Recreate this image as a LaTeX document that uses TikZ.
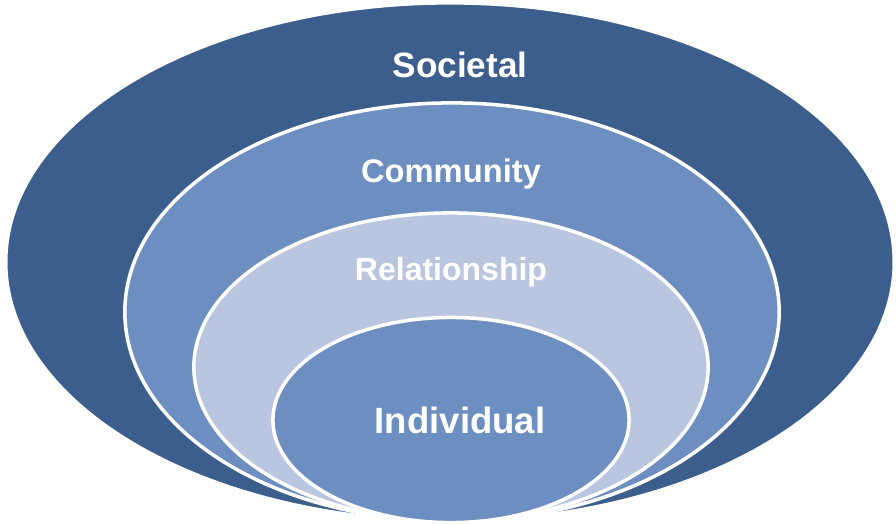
\documentclass[tikz,border=0pt]{standalone}
\usepackage{fontspec}
\setmainfont{Liberation Sans}
\usetikzlibrary{shapes.geometric}

\definecolor{societal}{RGB}{59,94,140}
\definecolor{community}{RGB}{109,142,192}
\definecolor{relation}{RGB}{186,198,223}
\definecolor{individual}{RGB}{109,142,192}

\begin{document}
\begin{tikzpicture}[x=0.01cm, y=-0.01cm]
        \tikzstyle{every node}=[inner sep=0pt, outer sep=0pt]
        \tikzstyle{level}=[ellipse, draw=white, line width=1pt]
        \tikzstyle{caption}=[text=white, anchor=base]

        \useasboundingbox (0,0) rectangle (896,523);

        % nested levels, all touching at the bottom
        \node (soc) [level, fill=societal, minimum width=8.88cm, minimum height=5.18cm] at (450,262) {};
        \node (com) [level, fill=community, minimum width=6.54cm, minimum height=4.18cm] at (452,312) {};
        \node (rel) [level, fill=relation, minimum width=5.14cm, minimum height=3.08cm] at (451,367) {};
        \node (ind) [level, fill=individual, minimum width=3.56cm, minimum height=2.05cm] at (451,420) {};

        \node (socl) [caption, font=\bfseries\fontsize{10}{12}\selectfont] at (460,77) {Societal};
        \node (coml) [caption, font=\bfseries\fontsize{9.3}{11}\selectfont] at (451,182) {Community};
        \node (rell) [caption, font=\bfseries\fontsize{9.1}{11}\selectfont] at (451,280) {Relationship};
        \node (indl) [caption, font=\bfseries\fontsize{10.4}{12}\selectfont] at (460,433) {Individual};

    \end{tikzpicture}
\end{document}
